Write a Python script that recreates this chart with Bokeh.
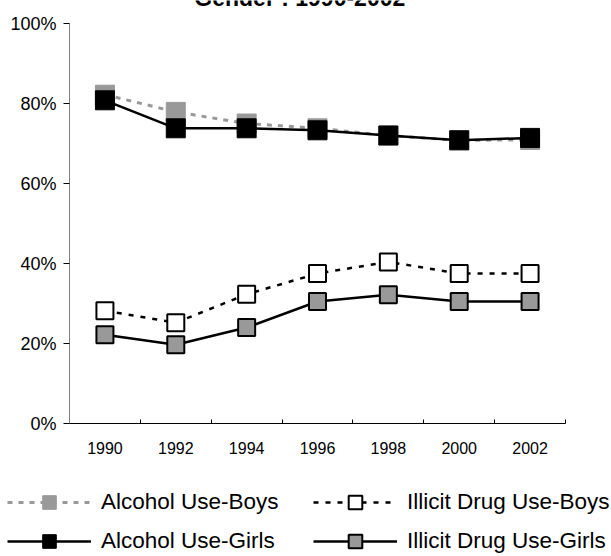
from bokeh.plotting import figure
from bokeh.models import (Range1d, FixedTicker, PrintfTickFormatter, Legend, LegendItem, Label)
from bokeh.embed import file_html
from bokeh.resources import INLINE

# ---- data (percent) ----
years = [1990, 1992, 1994, 1996, 1998, 2000, 2002]
alcohol_boys = [82.2, 77.9, 75.0, 73.8, 72.0, 70.8, 70.9]
alcohol_girls = [80.8, 73.8, 73.8, 73.3, 72.0, 70.8, 71.4]
illicit_boys = [28.2, 25.2, 32.3, 37.5, 40.4, 37.5, 37.5]
illicit_girls = [22.2, 19.7, 24.0, 30.5, 32.2, 30.5, 30.5]
y_ticks = [0, 20, 40, 60, 80, 100]
title_text = "Gender : 1990-2002"
series_names = ["Alcohol Use-Boys", "Illicit Drug Use-Boys", "Alcohol Use-Girls", "Illicit Drug Use-Girls"]

FONT = "Liberation Sans"
GRAY = "#999999"

W, H = 611, 556
# plotting-area placement on the canvas (pixels)
AX_LEFT, AX_RIGHT, AX_TOP, AX_BOTTOM = 69, 565, 23, 423

boundaries = [y - 1 for y in years] + [years[-1] + 1]
x0, x1 = boundaries[0], boundaries[-1]
y0, y1 = y_ticks[0], y_ticks[-1]
xs = (AX_RIGHT - AX_LEFT) / (x1 - x0)
ys = (AX_BOTTOM - AX_TOP) / (y1 - y0)

p = figure(width=W, height=H, output_backend="svg", toolbar_location=None,
           x_range=Range1d(x0 - AX_LEFT / xs, x1 + (W - AX_RIGHT) / xs),
           y_range=Range1d(y0 - (H - AX_BOTTOM) / ys, y1 + AX_TOP / ys),
           min_border=0)
p.outline_line_color = None
p.xgrid.visible = False
p.ygrid.visible = False

xa = p.xaxis[0]
xa.fixed_location = y0
xa.bounds = (x0, x1)
xa.ticker = FixedTicker(ticks=years, minor_ticks=boundaries)
xa.major_tick_in = 0
xa.major_tick_out = 0
xa.minor_tick_in = 4
xa.minor_tick_out = 0
xa.minor_tick_line_color = "black"
xa.axis_line_color = "black"
xa.major_label_text_font = FONT
xa.major_label_text_font_size = "16px"
xa.major_label_text_color = "black"
xa.major_label_standoff = 18

ya = p.yaxis[0]
ya.fixed_location = x0
ya.bounds = (y0, y1)
ya.ticker = FixedTicker(ticks=y_ticks, minor_ticks=[])
ya.formatter = PrintfTickFormatter(format="%d%%")
ya.major_tick_in = 0
ya.major_tick_out = 6
ya.major_tick_line_color = "black"
ya.axis_line_color = "#808080"
ya.major_label_text_font = FONT
ya.major_label_text_font_size = "18px"
ya.major_label_text_color = "black"
ya.major_label_standoff = 7

styles = [
    dict(line=dict(line_color=GRAY, line_width=3, line_dash="5 6"),
         marker=dict(size=19, fill_color=GRAY, line_color=GRAY, line_width=1)),
    dict(line=dict(line_color="black", line_width=2.5, line_dash="5 7"),
         marker=dict(size=17, fill_color="white", line_color="black", line_width=2)),
    dict(line=dict(line_color="black", line_width=2.5),
         marker=dict(size=19, fill_color="black", line_color="black", line_width=1)),
    dict(line=dict(line_color="black", line_width=2.5),
         marker=dict(size=17, fill_color=GRAY, line_color="black", line_width=2)),
]
series = [alcohol_boys, illicit_boys, alcohol_girls, illicit_girls]

items = []
for name, vals, st in zip(series_names, series, styles):
    lr = p.line(years, vals, **st["line"])
    mr = p.scatter(years, vals, marker="square", **st["marker"])
    items.append(LegendItem(label=name, renderers=[lr, mr]))

legend = Legend(items=items, location=(7, -2), orientation="horizontal", ncols=2,
                glyph_width=84, glyph_height=34, label_standoff=10, label_width=207, spacing=5,
                padding=0, margin=0, border_line_color=None, background_fill_alpha=0,
                label_text_font=FONT, label_text_font_size="22.5px", label_text_color="black")
p.add_layout(legend)

# title sits partly above the top edge, as in the reference
title = Label(x=(x0 + x1) / 2 - 0.5, y=y1 + 26 / ys, text=title_text, text_align="center",
              text_baseline="alphabetic", text_font=FONT, text_font_size="23px",
              text_font_style="bold", text_color="black")
p.add_layout(title)

open("out.html", "w").write(file_html(p, INLINE))
